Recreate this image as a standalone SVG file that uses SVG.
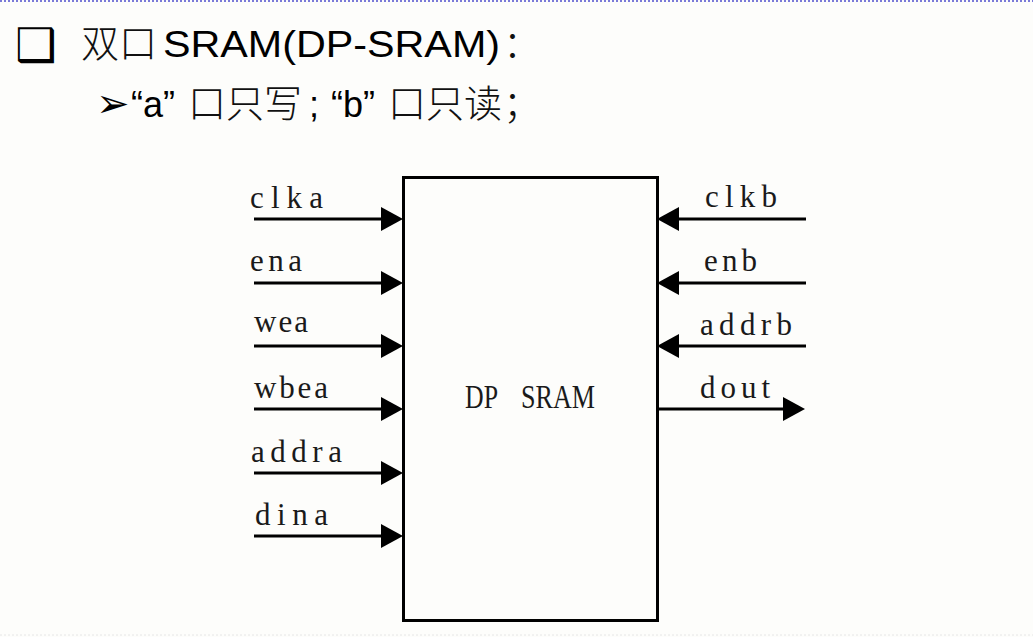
<svg xmlns="http://www.w3.org/2000/svg" width="1033" height="637" viewBox="0 0 1033 637">
<style>
.sans{font-family:"Liberation Sans",Arial,"Noto Sans CJK SC",sans-serif;fill:#000}
.cjk{font-family:"Noto Sans CJK SC",sans-serif;fill:#111;font-weight:300}
.lbl{font-family:"Liberation Serif","Noto Sans CJK SC",serif;font-size:31px;fill:#1a1a1a}
.wire{stroke:#000;stroke-width:3;fill:none}
</style>
<defs>
<marker id="ah" viewBox="0 0 22 24" refX="14" refY="12" markerWidth="22" markerHeight="24" markerUnits="userSpaceOnUse" orient="auto">
<path d="M0,0 L22,12 L0,24 z" fill="#000"/>
</marker>
</defs>
<rect x="0" y="0" width="1033" height="637" fill="#fdfdfb"/>
<line x1="0" y1="1" x2="1033" y2="1" stroke="#7a7ad8" stroke-width="2" stroke-dasharray="2,2"/>
<line x1="0" y1="635" x2="1033" y2="635" stroke="#e6e6e6" stroke-width="1" stroke-dasharray="2,2"/>

<g id="title">
<text x="15" y="61" font-family="DejaVu Sans,sans-serif" font-size="46" fill="#000">❑</text>
<text x="81" y="57" class="cjk" font-size="38">双口</text>
<text x="163" y="57" class="sans" font-size="36" textLength="337" lengthAdjust="spacingAndGlyphs">SRAM(DP-SRAM)</text>
<text x="503" y="57" class="cjk" font-size="38">：</text>
</g>
<g id="subtitle">
<text x="96" y="117" font-family="DejaVu Sans,sans-serif" font-size="40" fill="#000">➢</text>
<text x="131" y="117" class="sans" font-size="36">“a”</text>
<text x="188" y="117" class="cjk" font-size="38">口只写</text>
<text x="309" y="117" class="sans" font-size="36">;</text>
<text x="331" y="117" class="sans" font-size="36">“b”</text>
<text x="388" y="117" class="cjk" font-size="38">口只读</text>
<text x="503" y="117" class="cjk" font-size="38">；</text>
</g>

<g id="dpsram">
<rect x="403.5" y="177.5" width="254" height="443" class="wire"/>
<text y="408" font-family="Liberation Serif,serif" font-size="33" fill="#1a1a1a"><tspan x="465" textLength="33" lengthAdjust="spacingAndGlyphs">DP</tspan><tspan x="521" textLength="74" lengthAdjust="spacingAndGlyphs">SRAM</tspan></text>
</g>

<g id="port-labels">
<text class="lbl" x="250" y="208" textLength="73" lengthAdjust="spacing">clka</text>
<text class="lbl" x="250" y="271" textLength="52" lengthAdjust="spacing">ena</text>
<text class="lbl" x="254" y="332" textLength="54" lengthAdjust="spacing">wea</text>
<text class="lbl" x="254" y="398" textLength="74" lengthAdjust="spacing">wbea</text>
<text class="lbl" x="251" y="462" textLength="91" lengthAdjust="spacing">addra</text>
<text class="lbl" x="255" y="525" textLength="73" lengthAdjust="spacing">dina</text>
<text class="lbl" x="705" y="207" textLength="72" lengthAdjust="spacing">clkb</text>
<text class="lbl" x="704" y="271" textLength="53" lengthAdjust="spacing">enb</text>
<text class="lbl" x="700" y="335" textLength="92" lengthAdjust="spacing">addrb</text>
<text class="lbl" x="700" y="398" textLength="70" lengthAdjust="spacing">dout</text>
</g>

<g id="connectors">
<line class="wire" x1="254" y1="219" x2="395" y2="219" marker-end="url(#ah)"/>
<line class="wire" x1="254" y1="283" x2="395" y2="283" marker-end="url(#ah)"/>
<line class="wire" x1="254" y1="346" x2="395" y2="346" marker-end="url(#ah)"/>
<line class="wire" x1="254" y1="409" x2="395" y2="409" marker-end="url(#ah)"/>
<line class="wire" x1="254" y1="473" x2="395" y2="473" marker-end="url(#ah)"/>
<line class="wire" x1="254" y1="536" x2="395" y2="536" marker-end="url(#ah)"/>
<line class="wire" x1="806" y1="219" x2="665" y2="219" marker-end="url(#ah)"/>
<line class="wire" x1="806" y1="283" x2="665" y2="283" marker-end="url(#ah)"/>
<line class="wire" x1="806" y1="346" x2="665" y2="346" marker-end="url(#ah)"/>
<line class="wire" x1="657" y1="409" x2="797" y2="409" marker-end="url(#ah)"/>
</g>
</svg>
